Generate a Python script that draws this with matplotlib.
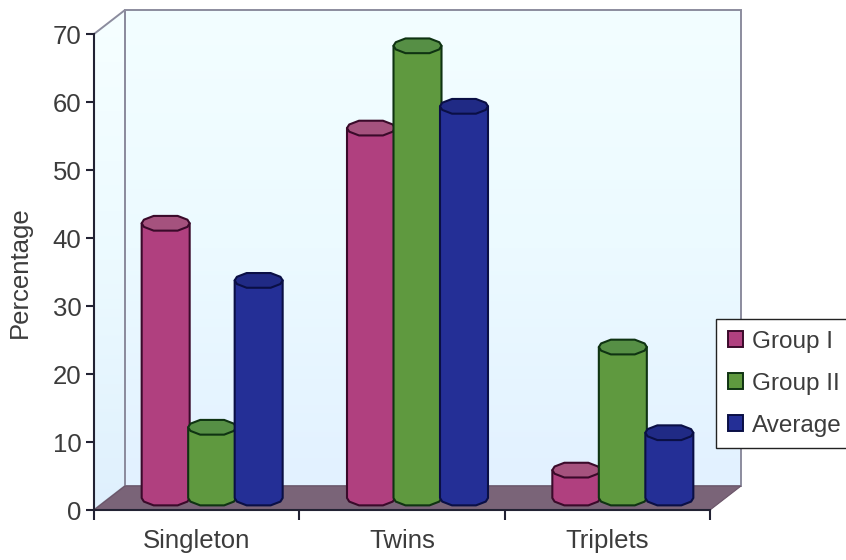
import matplotlib
matplotlib.use("Agg")
import matplotlib.pyplot as plt
import numpy as np
from matplotlib.colors import LinearSegmentedColormap
from matplotlib.patches import Patch, Polygon

plt.rcParams['font.family'] = ['Liberation Sans', 'DejaVu Sans']

categories = ["Singleton", "Twins", "Triplets"]
series_names = ["Group I", "Group II", "Average"]
group_1 = [40.4, 54.4, 4.1]
group_2 = [10.4, 66.5, 22.2]
average = [32.0, 57.6, 9.6]
y_ticks = [0, 10, 20, 30, 40, 50, 60, 70]

side_colors = ["#b0407f", "#5f993f", "#242f96"]
top_colors = ["#a5527e", "#568f45", "#202a85"]
edge_colors = ["#3a0a2a", "#0f3312", "#0a0f45"]
text_color = "#3c3c3c"

W, H = 846, 560
FS = 18.5

fig = plt.figure(figsize=(W / 100, H / 100), dpi=100, facecolor="white")
ax = fig.add_axes([94 / W, (H - 510) / H, 616 / W, 476 / H])
ax.patch.set_visible(False)

# depth of the box, in data units
dx = 31 / (616 / 3)
dy = 24 / (476 / 70)


def gradient_wall(poly, extent, colors):
    # vertical gradient clipped to the wall outline
    cmap = LinearSegmentedColormap.from_list("wall", colors)
    grad = np.linspace(0, 1, 200).reshape(-1, 1)
    im = ax.imshow(grad, extent=extent, cmap=cmap, aspect="auto", zorder=1,
                   origin="lower", interpolation="bilinear")
    patch = Polygon(poly, closed=True, facecolor="none", edgecolor="#8c8c9e", lw=1.4,
                    zorder=1.1, clip_on=False)
    ax.add_patch(patch)
    # the walls stick out past the axes box
    im.set_clip_box(fig.bbox)
    im.set_clip_path(patch)


# back wall, side wall and floor
back = [(dx, dy), (3 + dx, dy), (3 + dx, 70 + dy), (dx, 70 + dy)]
side = [(0, 0), (dx, dy), (dx, 70 + dy), (0, 70)]
floor = [(0, 0), (3, 0), (3 + dx, dy), (dx, dy)]

gradient_wall(back, (dx, 3 + dx, dy, 70 + dy), ["#e2f1ff", "#ecfaff", "#f3feff"])
gradient_wall(side, (0, dx, 0, 70 + dy), ["#dff0fd", "#ecfaff", "#f6ffff"])
ax.add_patch(Polygon(floor, closed=True, facecolor="#7a6478", edgecolor="#6a5468", lw=0.8,
                     zorder=2, clip_on=False))

# faceted cylinder outline
half_w = 24 / (616 / 3)
half_h = 8.5 / (476 / 70)
step = 46.5 / (616 / 3)
angles = np.deg2rad([0, 25, 60, 120, 155, 180, 205, 240, 300, 335])
front_angles = np.deg2rad([180, 205, 240, 300, 335, 360])


def draw_bar(cx, value, j):
    base = dy / 2
    top = base + value
    z = 3 + j * 0.1
    xf = cx + half_w * np.cos(front_angles)
    yf = base + half_h * np.sin(front_angles)
    body = list(zip(xf, yf)) + [(cx + half_w, top), (cx - half_w, top)]
    ax.add_patch(Polygon(body, closed=True, facecolor=side_colors[j], edgecolor=edge_colors[j],
                         lw=1.5, zorder=z, clip_on=False, joinstyle="round"))
    xt = cx + half_w * np.cos(angles)
    yt = top + half_h * np.sin(angles)
    ax.add_patch(Polygon(list(zip(xt, yt)), closed=True, facecolor=top_colors[j],
                         edgecolor=edge_colors[j], lw=1.5, zorder=z + 0.01, clip_on=False,
                         joinstyle="round"))


for i, values in enumerate(zip(group_1, group_2, average)):
    center = i + 0.5 + dx / 2
    for j, v in enumerate(values):
        draw_bar(center + (j - 1) * step, v, j)

ax.set_xlim(0, 3)
ax.set_ylim(0, 70)

# front axes
for s in ["top", "right"]:
    ax.spines[s].set_visible(False)
for s in ["left", "bottom"]:
    ax.spines[s].set_color("#222233")
    ax.spines[s].set_linewidth(1.5)
    ax.spines[s].set_zorder(2.5)

ax.set_yticks(y_ticks)
ax.set_xticks([0, 1, 2, 3])
ax.set_xticklabels([])
ax.set_xticks([0.5, 1.5, 2.5], minor=True)
ax.set_xticklabels(categories, minor=True)
ax.tick_params(axis="y", length=6, width=1.5, color="#222233", labelsize=FS,
               labelcolor=text_color, pad=3)
ax.tick_params(axis="x", which="major", length=7, width=1.5, color="#222233")
ax.tick_params(axis="x", which="minor", length=0, labelsize=FS, labelcolor=text_color, pad=14)
ax.set_ylabel("Percentage", fontsize=FS, color=text_color, labelpad=15)

handles = [Patch(facecolor=c, edgecolor=e, lw=1.4) for c, e in zip(side_colors, edge_colors)]
leg = fig.legend(handles, series_names, loc="upper left",
                 bbox_to_anchor=(716 / W, (H - 319) / H), fontsize=17.5, frameon=True,
                 fancybox=False, edgecolor="#222222", facecolor="white", framealpha=1,
                 labelcolor=text_color, handlelength=0.62, handleheight=0.62,
                 handletextpad=0.38, labelspacing=0.82, borderaxespad=0, borderpad=0.48)
leg.set_zorder(10)

fig.savefig("out.png", dpi=100)
